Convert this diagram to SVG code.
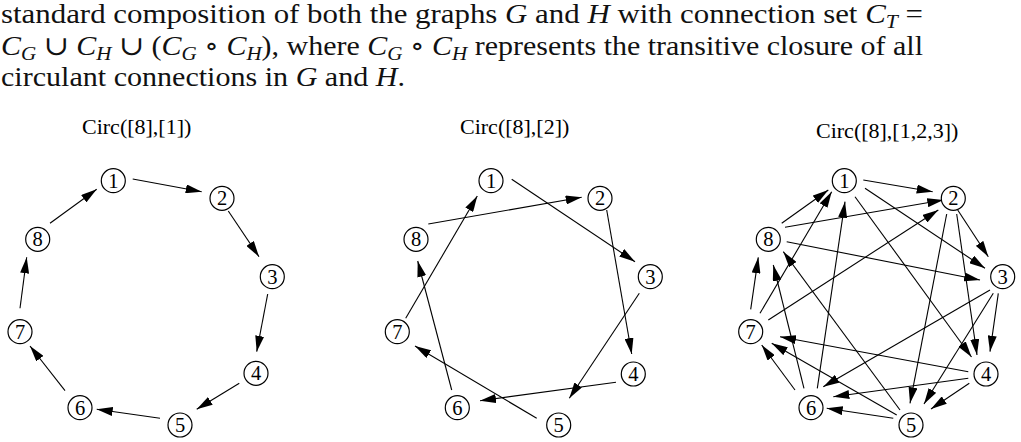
<svg xmlns="http://www.w3.org/2000/svg" width="1021" height="442" viewBox="0 0 1021 442">
<style>
.body{font-family:"Liberation Serif","DejaVu Serif",serif;font-size:27px;fill:#111}
.it{font-style:italic}
.sub{font-style:italic;font-size:19px}
.label{font-family:"Liberation Serif",serif;font-size:22px;fill:#000}
.node circle{fill:#fff;stroke:#000;stroke-width:1.2}
.node text{font-family:"Liberation Serif",serif;font-size:20.5px;text-anchor:middle;fill:#000}
.edges line{stroke:#000;stroke-width:1.1;marker-end:url(#ah)}
</style>
<defs>
<marker id="ah" markerUnits="userSpaceOnUse" markerWidth="16" markerHeight="9" viewBox="0 0 16 9" refX="16" refY="4.5" orient="auto">
<path d="M0,0 L16,4.5 L0,9 z" fill="#000"/>
</marker>
</defs>
<rect width="1021" height="442" fill="#fff"/>

<g id="caption">
<text class="body" x="1" y="23" textLength="922" lengthAdjust="spacingAndGlyphs">standard composition of both the graphs <tspan class="it">G</tspan> and <tspan class="it">H</tspan> with connection set <tspan class="it">C</tspan><tspan class="sub" dy="5">T</tspan><tspan dy="-5"> =</tspan></text>
<text class="body" x="1" y="55" textLength="922" lengthAdjust="spacingAndGlyphs"><tspan class="it">C</tspan><tspan class="sub" dy="5">G</tspan><tspan dy="-5"> ∪ </tspan><tspan class="it">C</tspan><tspan class="sub" dy="5">H</tspan><tspan dy="-5"> ∪ (</tspan><tspan class="it">C</tspan><tspan class="sub" dy="5">G</tspan><tspan dy="-5"> ∘ </tspan><tspan class="it">C</tspan><tspan class="sub" dy="5">H</tspan><tspan dy="-5">), where </tspan><tspan class="it">C</tspan><tspan class="sub" dy="5">G</tspan><tspan dy="-5"> ∘ </tspan><tspan class="it">C</tspan><tspan class="sub" dy="5">H</tspan><tspan dy="-5"> represents the transitive closure of all</tspan></text>
<text class="body" x="1" y="86" textLength="404" lengthAdjust="spacingAndGlyphs">circulant connections in <tspan class="it">G</tspan> and <tspan class="it">H</tspan>.</text>
</g>

<g id="titles">
<text class="label" x="82" y="134">Circ([8],[1])</text>
<text class="label" x="460" y="134">Circ([8],[2])</text>
<text class="label" x="816" y="138">Circ([8],[1,2,3])</text>
</g>

<g id="connectors" class="edges">
<!-- graph 1 -->
<line x1="132.7" y1="179" x2="201.7" y2="191.7"/>
<line x1="228.3" y1="211" x2="259" y2="256.7"/>
<line x1="267.7" y1="294" x2="256.7" y2="351.7"/>
<line x1="239.3" y1="383.3" x2="196.7" y2="409.3"/>
<line x1="160" y1="418.3" x2="96.7" y2="409.3"/>
<line x1="65" y1="390.7" x2="30" y2="346"/>
<line x1="20" y1="308.3" x2="26.7" y2="257.3"/>
<line x1="50" y1="223.3" x2="96.7" y2="189.3"/>
<!-- graph 2 -->
<line x1="511.7" y1="179.3" x2="635" y2="261.7"/>
<line x1="606.7" y1="210" x2="631.7" y2="354"/>
<line x1="639.3" y1="293.3" x2="569.3" y2="398.3"/>
<line x1="616" y1="382.3" x2="480" y2="400.7"/>
<line x1="536.7" y1="418.3" x2="415" y2="346"/>
<line x1="451.7" y1="390" x2="417.7" y2="261"/>
<line x1="405.7" y1="318.3" x2="477.3" y2="196"/>
<line x1="428.3" y1="224" x2="581.7" y2="197.3"/>
<!-- graph 3 -->
<line x1="863.3" y1="180" x2="932.7" y2="191.7"/>
<line x1="865" y1="188.3" x2="985" y2="268.3"/>
<line x1="855" y1="196.7" x2="971.5" y2="357"/>
<line x1="957.7" y1="210" x2="988.3" y2="256.7"/>
<line x1="956.7" y1="214" x2="977" y2="355"/>
<line x1="946.7" y1="214" x2="910" y2="403.3"/>
<line x1="998.3" y1="293.3" x2="990" y2="351.7"/>
<line x1="993.3" y1="293.3" x2="924" y2="404"/>
<line x1="990" y1="290" x2="823.3" y2="386.7"/>
<line x1="969.3" y1="383.3" x2="931" y2="409"/>
<line x1="968.3" y1="378.3" x2="833.3" y2="396.7"/>
<line x1="968.3" y1="371.7" x2="780" y2="336.7"/>
<line x1="893.3" y1="418.3" x2="826.7" y2="408.3"/>
<line x1="896.7" y1="415" x2="771.7" y2="343.3"/>
<line x1="900" y1="410" x2="783.3" y2="251.7"/>
<line x1="795" y1="390" x2="761.7" y2="345"/>
<line x1="804" y1="388.3" x2="773.3" y2="265"/>
<line x1="817.3" y1="388.3" x2="845" y2="201.7"/>
<line x1="750.7" y1="309.3" x2="758.3" y2="257.3"/>
<line x1="760" y1="313.3" x2="831.7" y2="191.7"/>
<line x1="768.3" y1="320" x2="938.3" y2="210"/>
<line x1="781.7" y1="223.3" x2="828.3" y2="190"/>
<line x1="785" y1="227.3" x2="943.3" y2="200"/>
<line x1="786.7" y1="241.7" x2="980" y2="280"/>
</g>

<g id="graph1">
<g id="g1-n1" class="node"><circle cx="113.3" cy="180.7" r="12"/><text x="113.3" y="187.6">1</text></g>
<g id="g1-n2" class="node"><circle cx="222" cy="198.3" r="12"/><text x="222" y="205.2">2</text></g>
<g id="g1-n3" class="node"><circle cx="272.3" cy="276.7" r="12"/><text x="272.3" y="283.6">3</text></g>
<g id="g1-n4" class="node"><circle cx="256" cy="373.3" r="12"/><text x="256" y="380.2">4</text></g>
<g id="g1-n5" class="node"><circle cx="180" cy="425" r="12"/><text x="180" y="431.9">5</text></g>
<g id="g1-n6" class="node"><circle cx="80" cy="407.7" r="12"/><text x="80" y="414.6">6</text></g>
<g id="g1-n7" class="node"><circle cx="20" cy="331.7" r="12"/><text x="20" y="338.6">7</text></g>
<g id="g1-n8" class="node"><circle cx="37.7" cy="239.3" r="12"/><text x="37.7" y="246.2">8</text></g>
</g>

<g id="graph2">
<g id="g2-n1" class="node"><circle cx="491" cy="180.7" r="12"/><text x="491" y="187.6">1</text></g>
<g id="g2-n2" class="node"><circle cx="600" cy="198.3" r="12"/><text x="600" y="205.2">2</text></g>
<g id="g2-n3" class="node"><circle cx="650.3" cy="276.7" r="12"/><text x="650.3" y="283.6">3</text></g>
<g id="g2-n4" class="node"><circle cx="633.3" cy="374" r="12"/><text x="633.3" y="380.9">4</text></g>
<g id="g2-n5" class="node"><circle cx="558.7" cy="425" r="12"/><text x="558.7" y="431.9">5</text></g>
<g id="g2-n6" class="node"><circle cx="457.3" cy="407.7" r="12"/><text x="457.3" y="414.6">6</text></g>
<g id="g2-n7" class="node"><circle cx="397.3" cy="331.7" r="12"/><text x="397.3" y="338.6">7</text></g>
<g id="g2-n8" class="node"><circle cx="416" cy="239.3" r="12"/><text x="416" y="246.2">8</text></g>
</g>

<g id="graph3">
<g id="g3-n1" class="node"><circle cx="844.3" cy="180.7" r="12"/><text x="844.3" y="187.6">1</text></g>
<g id="g3-n2" class="node"><circle cx="953.3" cy="198.3" r="12"/><text x="953.3" y="205.2">2</text></g>
<g id="g3-n3" class="node"><circle cx="1002.7" cy="276.7" r="12"/><text x="1002.7" y="283.6">3</text></g>
<g id="g3-n4" class="node"><circle cx="986" cy="374" r="12"/><text x="986" y="380.9">4</text></g>
<g id="g3-n5" class="node"><circle cx="911" cy="425" r="12"/><text x="911" y="431.9">5</text></g>
<g id="g3-n6" class="node"><circle cx="811" cy="407.7" r="12"/><text x="811" y="414.6">6</text></g>
<g id="g3-n7" class="node"><circle cx="750.7" cy="331.7" r="12"/><text x="750.7" y="338.6">7</text></g>
<g id="g3-n8" class="node"><circle cx="768.3" cy="239.3" r="12"/><text x="768.3" y="246.2">8</text></g>
</g>
</svg>
